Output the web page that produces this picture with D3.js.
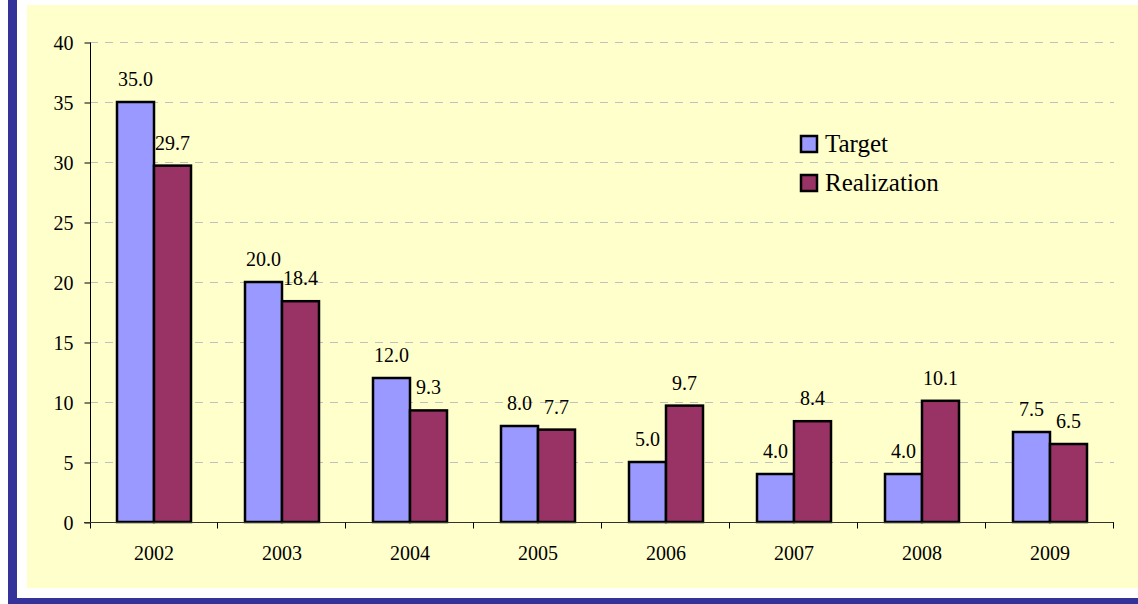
<!DOCTYPE html>
<html>
<head>
<meta charset="utf-8">
<script src="https://cdn.jsdelivr.net/npm/d3@7"></script>
<style>
  body { margin: 0; background: #fff; }
  svg text { font-family: "Liberation Serif", "Times New Roman", serif; fill: #000; }
</style>
</head>
<body>
<svg id="chart" width="1138" height="604"></svg>
<script>
var years = ['2002', '2003', '2004', '2005', '2006', '2007', '2008', '2009'];
var seriesNames = ['Target', 'Realization'];
var target = [35.0, 20.0, 12.0, 8.0, 5.0, 4.0, 4.0, 7.5];
var realization = [29.7, 18.4, 9.3, 7.7, 9.7, 8.4, 10.1, 6.5];
var yTicks = [0, 5, 10, 15, 20, 25, 30, 35, 40];
var colors = ['#9999ff', '#993366'];

var svg = d3.select('#chart');

// frame: navy strip left and bottom, pale yellow panel
svg.append('rect').attr('x', 8).attr('y', 0).attr('width', 9).attr('height', 604).attr('fill', '#333399');
svg.append('rect').attr('x', 8).attr('y', 598).attr('width', 1130).attr('height', 6).attr('fill', '#333399');
svg.append('rect').attr('x', 27).attr('y', 5).attr('width', 1111).attr('height', 583).attr('fill', '#ffffcc');

var plotL = 90, plotR = 1114, plotT = 42, plotB = 522;

var x = d3.scaleBand().domain(years).range([plotL, plotR]);
var y = d3.scaleLinear().domain([0, 40]).range([plotB, plotT]);
var barW = 37;

// gridlines
svg.append('g').selectAll('line').data(yTicks.filter(d => d > 0)).enter().append('line')
  .attr('x1', plotL).attr('x2', plotR)
  .attr('y1', d => y(d) + 0.5).attr('y2', d => y(d) + 0.5)
  .attr('stroke', '#c0c0c0').attr('stroke-width', 1).attr('stroke-dasharray', '8,7');

// y axis
var yAxis = d3.axisLeft(y).tickValues(yTicks).tickSize(6).tickPadding(11).tickFormat(d3.format('d'));
var gy = svg.append('g').attr('transform', 'translate(' + (plotL + 0.5) + ',0.5)').call(yAxis);
gy.select('.domain').attr('stroke', '#000').attr('d', 'M0,' + plotT + 'V' + (plotB + 6));
gy.selectAll('.tick line').attr('stroke', '#000');
gy.selectAll('.tick text').attr('font-size', 20).attr('font-family', null).attr('dy', '0.34em');

// bars
var data = [];
years.forEach((yr, i) => {
  data.push({ year: yr, s: 0, v: target[i] });
  data.push({ year: yr, s: 1, v: realization[i] });
});

svg.append('g').selectAll('rect').data(data).enter().append('rect')
  .attr('x', d => x(d.year) + x.bandwidth() / 2 - barW + d.s * barW)
  .attr('y', d => y(d.v))
  .attr('width', barW)
  .attr('height', d => y(0) - y(d.v))
  .attr('fill', d => colors[d.s])
  .attr('stroke', '#000').attr('stroke-width', 2.5);

svg.append('g').selectAll('text').data(data).enter().append('text')
  .attr('x', d => x(d.year) + x.bandwidth() / 2 - barW / 2 + d.s * barW)
  .attr('y', d => y(d.v) - 16)
  .attr('text-anchor', 'middle').attr('font-size', 20)
  .text(d => d.v.toFixed(1));

// x axis
var gx = svg.append('g').attr('transform', 'translate(0,' + (plotB + 0.5) + ')');
gx.append('line').attr('x1', plotL - 6).attr('x2', plotR).attr('y1', 0).attr('y2', 0).attr('stroke', '#333');
gx.selectAll('line.tk').data(years.slice(1).concat(['end'])).enter().append('line').attr('class', 'tk')
  .attr('x1', d => (d === 'end' ? plotR : x(d)) - 0.5).attr('x2', d => (d === 'end' ? plotR : x(d)) - 0.5)
  .attr('y1', 0).attr('y2', 6).attr('stroke', '#000');
gx.selectAll('text').data(years).enter().append('text')
  .attr('x', d => x(d) + x.bandwidth() / 2).attr('y', 37)
  .attr('text-anchor', 'middle').attr('font-size', 20).text(d => d);

// legend
var lg = svg.append('g').attr('transform', 'translate(800,135)');
seriesNames.forEach((name, i) => {
  var g = lg.append('g').attr('transform', 'translate(0,' + (i * 39) + ')');
  g.append('rect').attr('x', 1).attr('y', 1).attr('width', 16).attr('height', 16)
    .attr('fill', colors[i]).attr('stroke', '#000').attr('stroke-width', 2.5);
  g.append('text').attr('x', 25).attr('y', 17).attr('font-size', 25).text(name);
});
</script>
</body>
</html>
